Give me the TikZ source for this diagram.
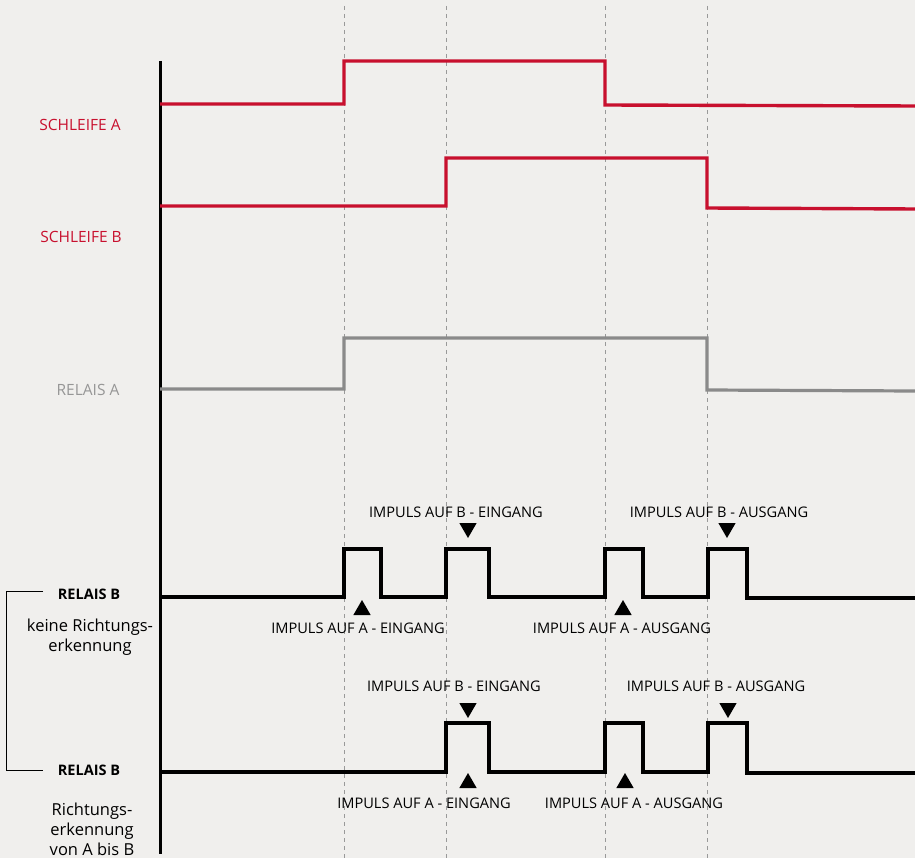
\documentclass[tikz,border=0pt]{standalone}
\usepackage{fontspec}
\setmainfont{Open Sans}
\usetikzlibrary{positioning}
\usetikzlibrary{shapes.geometric}
\definecolor{loopred}{RGB}{200,16,46}
\definecolor{relaisgrey}{RGB}{138,138,138}
\definecolor{labelgrey}{RGB}{150,150,150}
\definecolor{paper}{RGB}{240,239,237}

\begin{document}
\begin{tikzpicture}[x=1pt,y=-1pt,
redwave/.style={draw=loopred, line width=3.4pt},
greywave/.style={draw=relaisgrey, line width=3.2pt},
blackwave/.style={draw=black, line width=3.4pt},
timeline/.style={draw=black!40, line width=1pt, dash pattern=on 4pt off 4pt},
sidelabel/.style={font=\fontsize{15.5}{20.5}\selectfont, align=center, inner sep=0pt},
notelabel/.style={font=\fontsize{16.5}{20.5}\selectfont, align=center, inner sep=0pt},
relaislabel/.style={font=\fontsize{14.5}{20}\selectfont\bfseries, inner sep=0pt},
pulselabel/.style={font=\fontsize{14.6}{16}\selectfont, inner sep=0pt},
downmark/.style={regular polygon, regular polygon sides=3, shape border rotate=180, fill=black, minimum size=20pt, inner sep=0pt},
upmark/.style={regular polygon, regular polygon sides=3, fill=black, minimum size=20pt, inner sep=0pt}]
\useasboundingbox[fill=paper] (0,0) rectangle (915,858);

% time marks
\foreach \t in {344,446,605,707}
  \draw[timeline] (\t,6) -- (\t,858);

% axis
\draw[black, line width=3pt] (160,61) -- (160,854);

% waveforms
\draw[redwave] (160,104) -- (344,104) -- (344,61) -- (605,61) -- (605,105) -- (915,106);
\draw[redwave] (160,206) -- (446,206) -- (446,158) -- (707,158) -- (707,208) -- (915,209);
\draw[greywave] (160,389) -- (344,389) -- (344,338) -- (707,338) -- (707,390) -- (915,391);
\draw[blackwave] (160,597) -- (344,597) -- (344,549) -- (381,549) -- (381,597)
  -- (446,597) -- (446,549) -- (489,549) -- (489,597)
  -- (605,597) -- (605,549) -- (643,549) -- (643,597)
  -- (708,597) -- (708,549) -- (747,549) -- (747,598) -- (915,598);
\draw[blackwave] (160,772) -- (446,772) -- (446,723) -- (489,723) -- (489,772)
  -- (605,772) -- (605,723) -- (643,723) -- (643,772)
  -- (708,772) -- (708,723) -- (747,723) -- (747,773) -- (915,773);

% left labels
\node[sidelabel, text=loopred] (sa) at (80,125) {SCHLEIFE A};
\node[sidelabel, text=loopred] (sb) at (81,237) {SCHLEIFE B};
\node[sidelabel, text=labelgrey] (ra) at (88,390) {RELAIS A};
\node[relaislabel] (rb1) at (89,594) {RELAIS B};
\node[notelabel] (rb1txt) at (90,637) {keine Richtungs-\\erkennung};
\node[relaislabel] (rb2) at (89,770) {RELAIS B};
\node[notelabel, font=\fontsize{16.5}{20}\selectfont] (rb2txt) at (92,829) {Richtungs-\\erkennung\\von A bis B};
\coordinate (bracketa) at (43,591);
\coordinate (bracketb) at (43,770);
\draw[black, line width=0.8pt] (bracketa) -- (6,591) -- (6,770) -- (bracketb);

% markers, upper relais B
\node[pulselabel] (bin1) at (456,512) {IMPULS AUF B - EINGANG};
\node[downmark] (bin1m) at (468,528) {};
\node[pulselabel] (bout1) at (719,512) {IMPULS AUF B - AUSGANG};
\node[downmark] (bout1m) at (727,528) {};
\node[upmark] (ain1m) at (362,610) {};
\node[pulselabel] (ain1) at (358,628) {IMPULS AUF A - EINGANG};
\node[upmark] (aout1m) at (623,610) {};
\node[pulselabel] (aout1) at (622,628) {IMPULS AUF A - AUSGANG};

% markers, lower relais B
\node[pulselabel] (bin2) at (454,686) {IMPULS AUF B - EINGANG};
\node[downmark] (bin2m) at (468,708) {};
\node[pulselabel] (bout2) at (716,686) {IMPULS AUF B - AUSGANG};
\node[downmark] (bout2m) at (728,708) {};
\node[upmark] (ain2m) at (468,783) {};
\node[pulselabel] (ain2) at (424,803) {IMPULS AUF A - EINGANG};
\node[upmark] (aout2m) at (625,783) {};
\node[pulselabel] (aout2) at (634,803) {IMPULS AUF A - AUSGANG};
\end{tikzpicture}
\end{document}
